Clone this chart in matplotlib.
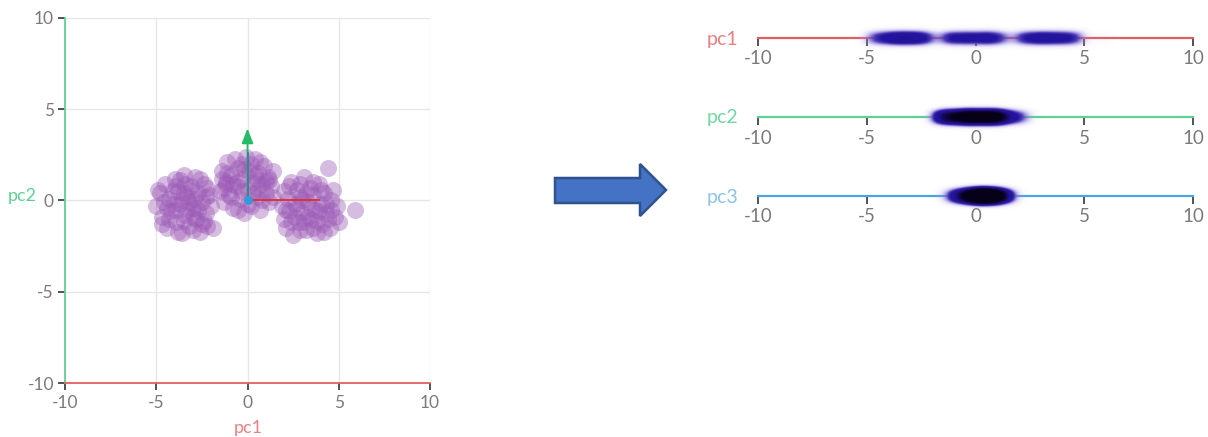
import numpy as np
import matplotlib
matplotlib.use("Agg")
import matplotlib.pyplot as plt
from matplotlib.patches import Polygon

plt.rcParams['font.family'] = ['Lato', 'DejaVu Sans']

# Scores on the first two principal components (three clusters)
pc1_left = [-5.0, -4.8, -4.7, -4.5, -4.4, -4.3, -4.2, -4.0, -3.9, -3.8,
            -3.7, -3.6, -3.5, -3.4, -3.3, -3.2, -3.1, -3.0, -2.9, -2.8,
            -2.7, -2.6, -2.5, -2.4, -2.3, -2.2, -2.1, -2.0, -1.9, -2.6,
            -4.1, -3.6, -3.0, -3.3, -2.8, -4.6, -3.9, -3.5, -2.4, -3.8,
            -2.2, -4.3, -3.1, -2.7, -3.4,
            -4.9, -4.4, -3.9, -3.2, -2.9, -2.5, -3.7, -4.1, -3.0, -2.3,
            -4.7, -3.5]
pc2_left = [-0.3, 0.4, -0.9, 0.9, -1.5, 0.1, -0.6, 1.2, -1.2, 0.5,
            -0.2, -1.8, 1.4, -0.8, 0.2, -1.4, 0.8, -0.4, 1.3, -1.0,
            0.4, -1.7, -0.1, 0.9, -0.7, -1.4, 0.3, -0.3, -1.5, 1.2,
            -0.2, 0.0, -0.9, -0.5, -0.4, -0.1, 0.8, -1.1, -1.1, -1.7,
            0.7, -1.0, 0.5, -0.6, 0.9,
            0.6, -0.4, -0.5, -0.1, 0.1, -1.3, 1.1, 0.5, -1.6, 0.2,
            -1.3, 0.4]
pc1_mid = [-1.5, -1.4, -1.3, -1.2, -1.1, -1.0, -0.9, -0.8, -0.7, -0.6,
           -0.5, -0.4, -0.3, -0.2, -0.1, 0.0, 0.1, 0.2, 0.3, 0.4,
           0.5, 0.6, 0.7, 0.8, 0.9, 1.0, 1.1, 1.2, 1.3, 1.4,
           -1.3, -0.5, 0.3, -0.8, 0.7, 1.4, -0.2, 0.5, -1.4, 0.0,
           -0.9, -0.3, 0.4, 1.0, -1.1, 0.2, 0.8, -0.6, 1.2, -0.3,
           0.6, -1.2]
pc2_mid = [0.5, 1.6, -0.1, 1.0, 2.1, 0.3, 1.4, -0.4, 2.3, 0.8,
           1.8, 0.1, 1.2, -0.7, 2.4, 0.6, 1.6, -0.3, 1.0, 2.3,
           0.2, 1.5, -0.5, 0.9, 1.9, 0.4, 1.3, -0.1, 0.8, 1.6,
           0.7, -0.5, 0.4, 0.9, 2.1, 0.2, 1.7, 1.1, 1.2, -0.2,
           0.2, 0.5, 1.4, 1.0, 1.5, 2.0, 0.0, 1.0, 1.1, 2.0,
           0.6, 0.9]
pc1_right = [1.9, 2.0, 2.0, 2.1, 2.2, 2.3, 2.4, 2.5, 2.6, 2.7,
             2.8, 2.9, 3.0, 3.1, 3.2, 3.3, 3.4, 3.5, 3.6, 3.7,
             3.8, 3.9, 4.0, 4.1, 4.2, 4.3, 4.5, 4.6, 4.8, 4.9,
             4.4, 5.9, 5.0, 3.0, 3.5, 2.6, 4.0, 3.2, 2.3, 3.8,
             4.7, 2.9, 4.3,
             2.1, 2.7, 3.3, 3.9, 4.4, 3.1, 2.4, 3.6, 4.2, 2.9,
             3.6, 4.6]
pc2_right = [-0.3, -1.0, 0.5, -1.5, 0.1, -0.6, 1.0, -1.9, -0.2, 0.6,
             -1.2, 0.2, -0.7, 1.3, -1.6, -0.1, 0.7, -1.0, 0.3, -0.5,
             -1.8, 0.9, -0.2, -1.3, 0.4, -0.7, -1.5, 0.0, -0.9, -0.3,
             1.8, -0.5, -1.2, 0.0, -0.4, -0.9, 0.6, 0.4, 0.8, -1.1,
             0.6, -1.6, -0.2,
             -0.5, -0.4, -0.9, -0.6, -1.0, -1.2, -1.2, -1.5, -1.7, 0.9,
             1.0, -0.5]

# Scores on the third principal component, same point order
pc3_left = [0.2, -0.6, 0.9, 0.0, -1.1, 0.5, 1.3, -0.3, 0.7, 0.1,
            -0.8, 0.4, 1.0, -0.2, 0.6, -1.3, 0.3, 1.5, -0.5, 0.8,
            0.0, 1.1, -0.9, 0.4, 0.2, -0.4, 0.9, 1.6, -0.1, 0.5,
            0.3, -0.7, 1.2, 0.1, 0.6, -0.2, 0.8, 0.0, 1.4, -1.0,
            0.4, 0.7, -0.5, 0.2, 1.0,
            0.3, -0.2, 0.8, 0.1, 0.5, 1.0, -0.4, 0.6, 0.2, 0.9,
            -0.1, 0.4]
pc3_mid = [0.5, -0.4, 1.1, 0.2, -1.2, 0.8, 0.0, 1.4, -0.7, 0.3,
           0.9, -0.1, 1.7, 0.4, -0.9, 0.6, 1.2, -0.3, 0.1, 0.7,
           1.0, -0.6, 0.2, 1.5, -0.2, 0.5, 0.9, -1.0, 0.3, 1.3,
           0.0, 0.6, -0.5, 1.1, 0.4, -0.1, 0.8, 0.2, 1.8, -0.8,
           0.2, 0.7, -0.3, 0.5, 1.0, 0.1, 0.6, 0.3, -0.2, 0.8,
           0.4, 0.0]
pc3_right = [0.1, 0.9, -0.5, 1.2, 0.3, -1.0, 0.6, 0.0, 1.6, -0.3,
             0.7, 0.2, 1.1, -0.7, 0.4, 0.9, -0.2, 1.4, 0.5, -1.4,
             0.8, 0.1, 1.0, -0.4, 0.6, 0.3, 1.3, -0.6, 0.2, 0.7,
             -0.1, 0.5, 1.2, 0.0, 0.4, -0.8, 0.9, 0.3, 1.5, -0.3,
             0.6, 0.1, 0.8,
             0.5, 0.2, 0.8, -0.1, 0.4, 0.6, 0.0, 0.9, 0.3, -0.4,
             0.7, 0.2]

pc1 = np.array(pc1_left + pc1_mid + pc1_right)
pc2 = np.array(pc2_left + pc2_mid + pc2_right)
pc3 = np.array(pc3_left + pc3_mid + pc3_right)

ticks = [-10, -5, 0, 5, 10]
tick_labels = ["-10", "-5", "0", "5", "10"]

RED = "#e06060"
GREEN = "#5fcf95"
BLUE = "#4aa6dc"
TICK_TXT = "#7a7a7a"
TICK_DARK = "#444444"

W, H = 1208, 437
fig = plt.figure(figsize=(W / 100, H / 100), dpi=100)


def px_box(x0, y0, x1, y1):
    return [x0 / W, 1 - y1 / H, (x1 - x0) / W, (y1 - y0) / H]


# background layer for the arrow between the panels
bg = fig.add_axes([0, 0, 1, 1], zorder=-5)
bg.set_xlim(0, W)
bg.set_ylim(H, 0)
bg.axis("off")
bg.add_patch(Polygon([(555, 178), (640, 178), (640, 164), (666, 190),
                      (640, 216), (640, 203), (555, 203)],
                     closed=True, facecolor="#4472c4", edgecolor="#2f528f",
                     lw=1.8))

# ---- scatter of pc1 vs pc2 ----
ax = fig.add_axes(px_box(65, 18, 430, 383))
ax.set_xlim(-10, 10)
ax.set_ylim(-10, 10)
ax.set_xticks(ticks)
ax.set_yticks(ticks)
ax.set_xticklabels(tick_labels)
ax.set_yticklabels(tick_labels)
ax.grid(True, color="#e6e6e6", lw=1.0, zorder=0)
for s in ("top", "right"):
    ax.spines[s].set_visible(False)
ax.spines["bottom"].set_color(RED)
ax.spines["left"].set_color(GREEN)
ax.spines["bottom"].set_linewidth(1.3)
ax.spines["left"].set_linewidth(1.3)
ax.tick_params(axis="x", length=5, width=1.3, color=TICK_DARK,
               labelcolor=TICK_TXT, labelsize=12.5, pad=4)
ax.tick_params(axis="y", length=5, width=1.3, color=TICK_DARK,
               labelcolor=TICK_TXT, labelsize=12.5, pad=3)
for i in (0, -1):
    ax.xaxis.get_major_ticks()[i].tick1line.set_color(RED)
    ax.yaxis.get_major_ticks()[i].tick1line.set_color(GREEN)

ax.scatter(pc1, pc2, s=150, color="#9b59b6", alpha=0.4, linewidths=0,
           zorder=2)

# principal directions
ax.plot([0, 3.9], [0, 0], color="#dd3030", lw=1.3, zorder=3)
ax.annotate("", xy=(0, 3.95), xytext=(0, 0),
            arrowprops=dict(arrowstyle="-|>,head_length=0.9,head_width=0.35",
                            color="#22bb66", lw=1.3, shrinkA=0, shrinkB=0),
            zorder=3)
ax.plot([0, 0], [0, 2.6], color="#3f7f95", lw=1.3, zorder=4)
ax.scatter([0], [0], s=40, color="#3399dd", zorder=5, linewidths=0)

fig.text(22 / W, 1 - 196 / H, "pc2", color=GREEN, fontsize=13,
         ha="center", va="center")
fig.text(248 / W, 1 - 428 / H, "pc1", color="#e88080", fontsize=13,
         ha="center", va="center")

# ---- one-dimensional projections ----
xs = np.linspace(-10, 10, 1200)
ys = np.linspace(-1, 1, 160)
vprof = np.exp(-(np.abs(ys) / 0.38) ** 2.5)
lav = np.array([0.66, 0.58, 0.93])
blue = np.array([0.14, 0.08, 0.62])
black = np.array([0.03, 0.0, 0.10])

strips = [("pc1", pc1, RED, "#e88080", 38),
          ("pc2", pc2, GREEN, "#72d6a2", 117),
          ("pc3", pc3, BLUE, "#8cc4e6", 196)]

for name, vals, col, lblcol, yline in strips:
    sa = fig.add_axes(px_box(758, yline - 20, 1193, yline + 20))
    sa.set_xlim(-10, 10)
    sa.set_ylim(-1, 1)
    sa.patch.set_alpha(0)
    for s in ("top", "right", "left"):
        sa.spines[s].set_visible(False)
    sa.spines["bottom"].set_position(("data", 0))
    sa.spines["bottom"].set_color(col)
    sa.spines["bottom"].set_linewidth(1.6)
    sa.set_yticks([])
    sa.set_xticks(ticks)
    sa.set_xticklabels(tick_labels)
    sa.tick_params(axis="x", length=6, width=1.3, color=TICK_DARK,
                   labelcolor=TICK_TXT, labelsize=13.5, pad=3)
    for i in (0, -1):
        sa.xaxis.get_major_ticks()[i].tick1line.set_color(col)

    d = np.exp(-(xs[None, :] - vals[:, None]) ** 2 / (2 * 0.33 ** 2)).sum(0)
    D = d[None, :] * vprof[:, None]
    alpha = np.clip(D / 10.0, 0, 1) ** 1.4
    w = np.clip((D - 3.0) / 10.0, 0, 1)
    u = np.clip((D - 17.0) / 14.0, 0, 1)
    rgb = lav * (1 - w)[..., None] + blue * w[..., None]
    rgb = rgb * (1 - u)[..., None] + black * u[..., None]
    img = np.dstack([rgb, alpha])
    sa.imshow(img, extent=[-10, 10, -1, 1], origin="lower", aspect="auto",
              zorder=3, interpolation="bilinear")

    fig.text(722 / W, 1 - (yline + 1) / H, name, color=lblcol, fontsize=14,
             ha="center", va="center")

fig.savefig("out.png", dpi=100)
